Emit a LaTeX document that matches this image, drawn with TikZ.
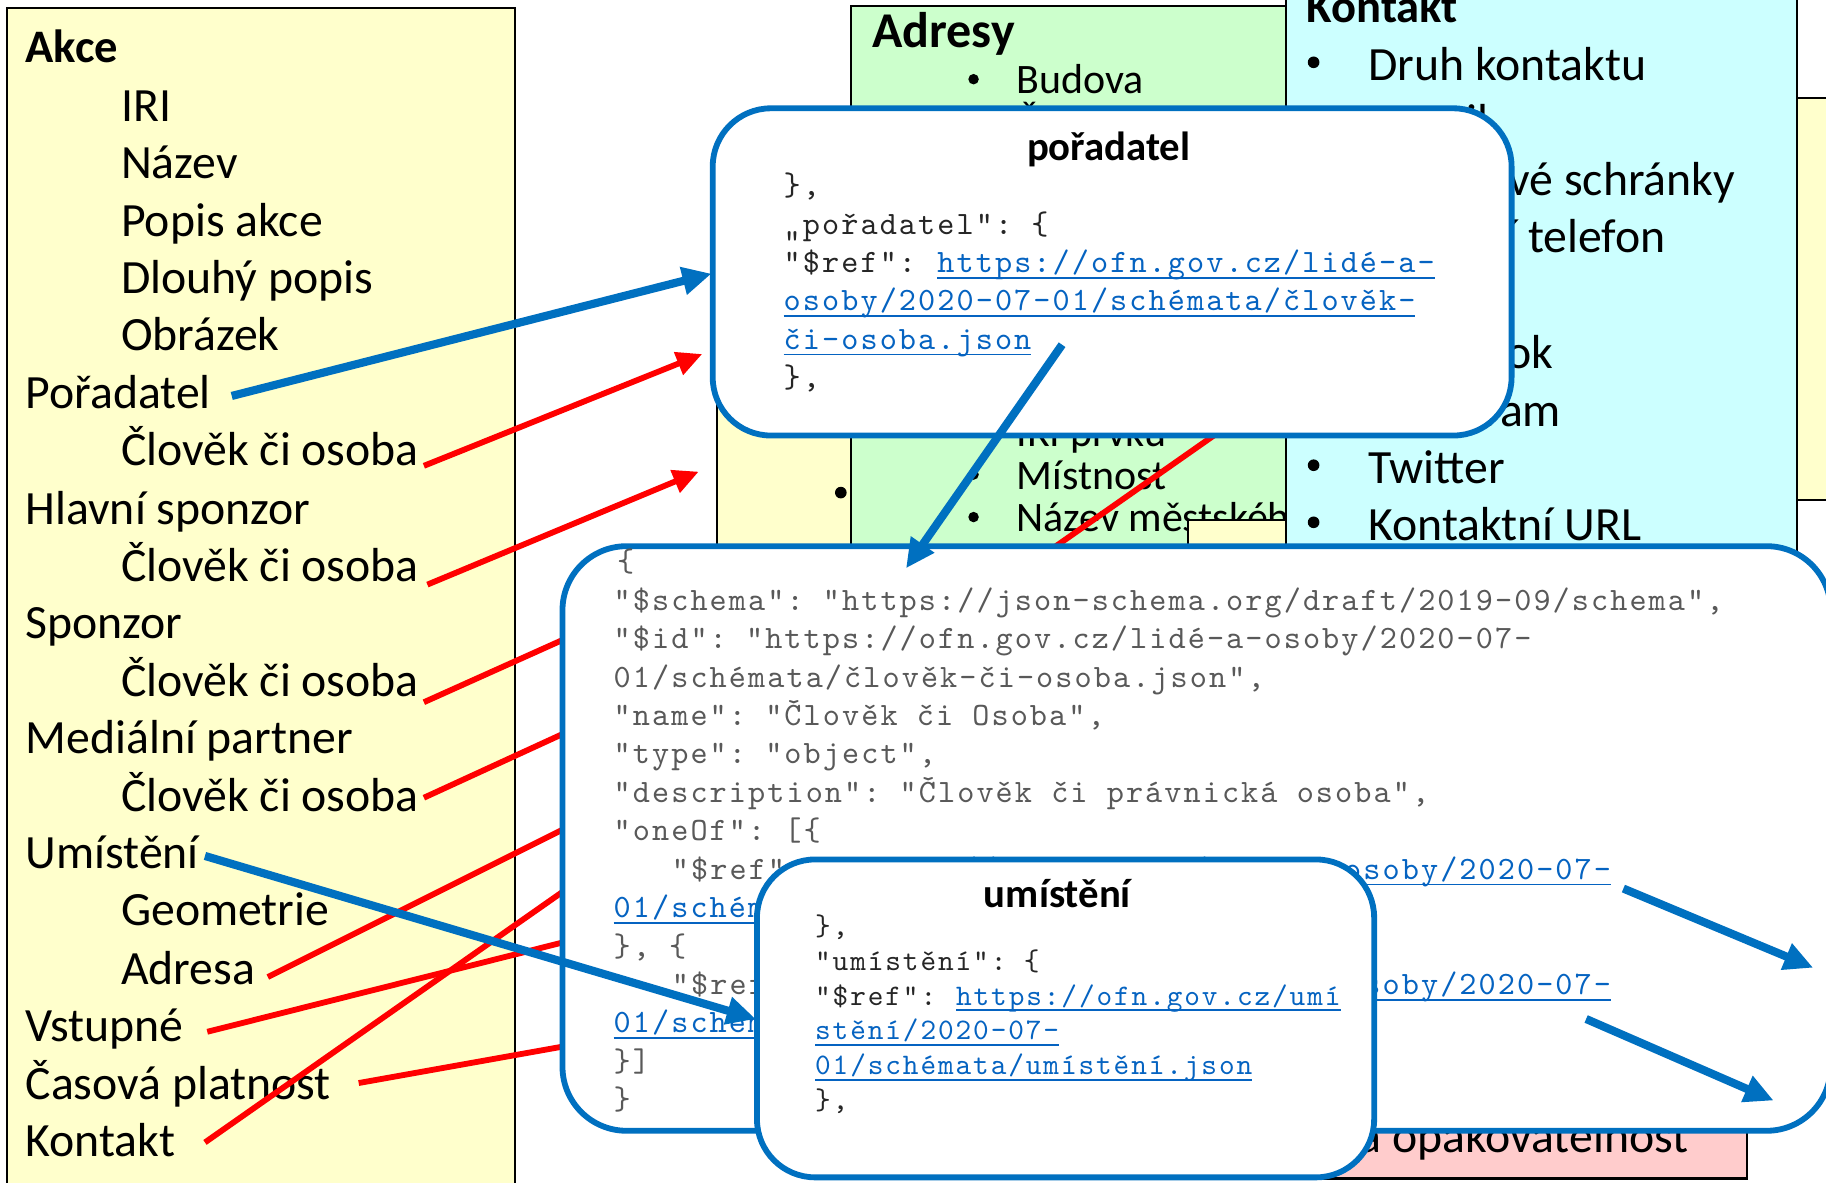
\documentclass[tikz,border=0pt]{standalone}
\usepackage{fontspec}
\setmainfont{Carlito}
\newfontfamily\jsonfont{lmmono10-regular.otf}[LetterSpace=6.4]
\usetikzlibrary{arrows.meta,calc}
\frenchspacing
\definecolor{bluA}{HTML}{0070C0}
\definecolor{linkC}{HTML}{0563C1}
\definecolor{yelC}{HTML}{FFFFCC}
\definecolor{grnC}{HTML}{CCFFCC}
\definecolor{cyaC}{HTML}{CCFFFF}
\definecolor{pnkC}{HTML}{FFCCCC}
\definecolor{codeG}{HTML}{595959}
\definecolor{codeD}{HTML}{262626}
\definecolor{redC}{HTML}{FF0000}
\newcommand\jlink[5]{%
  \node[#2,text=linkC] (#1) at (#3,#4) {#5};
  \draw[linkC,line width=1.3pt] ([yshift=-4.5pt]#1.base west) -- ([yshift=-4.5pt]#1.base east);}
\begin{document}
\begin{tikzpicture}[x=1pt,y=-1pt,
  panel/.style={draw=black,line width=1.8pt},
  tf/.style={font=\fontsize{41}{48}\selectfont,anchor=base west,inner sep=0pt,outer sep=0pt},
  ta/.style={font=\fontsize{36}{43}\selectfont,anchor=base west,inner sep=0pt,outer sep=0pt},
  hd/.style={font=\bfseries\fontsize{40}{48}\selectfont,anchor=base west,inner sep=0pt,outer sep=0pt},
  ttl/.style={font=\bfseries\fontsize{35}{42}\selectfont,anchor=base,inner sep=0pt,outer sep=0pt},
  cg/.style={font=\jsonfont\fontsize{28}{33}\selectfont,text=codeG,anchor=base west,inner sep=0pt,outer sep=0pt},
  cd/.style={font=\jsonfont\fontsize{28}{33}\selectfont,text=codeD,anchor=base west,inner sep=0pt,outer sep=0pt},
  cs/.style={font=\jsonfont\fontsize{25.6}{30}\selectfont,text=codeD,anchor=base west,inner sep=0pt,outer sep=0pt},
  jbox/.style={draw=bluA,line width=5pt,fill=white,rounded corners=55pt},
  redline/.style={draw=redC,line width=5pt},
  redarrow/.style={redline,-{Triangle[length=22pt,width=20pt]}},
  bluearrow/.style={draw=bluA,line width=7pt,-{Triangle[length=25pt,width=23pt]}},
  bul/.style={fill=black}
]
\useasboundingbox (0,0) rectangle (1568,1015);
\clip (0,0) rectangle (1568,1015);
\fill[white] (0,0) rectangle (1568,1015);

% ---------- background panels ----------
\filldraw[panel,fill=yelC] (6,7) rectangle (442,1040);
\filldraw[panel,fill=yelC] (615.5,300) rectangle (731,480);
\fill[bul] (722,423) circle (5);
\filldraw[panel,fill=grnC] (731,5.5) rectangle (1104,480);
\filldraw[panel,fill=yelC] (1543,84) rectangle (1600,429);
\filldraw[panel,fill=pnkC] (880,930) rectangle (1500,1012);

% ---------- left panel: Akce ----------
\node[hd] (akce) at (22,54) {Akce};
\node[tf] (iri) at (104,104) {IRI};
\node[tf] (nazev) at (104,153) {Název};
\node[tf] (popis) at (104,203) {Popis akce};
\node[tf] (dlouhy) at (104,252) {Dlouhý popis};
\node[tf] (obrazek) at (104,301) {Obrázek};
\node[tf] (poradatel) at (22,351) {Pořadatel};
\node[tf] (clovek1) at (104,400) {Člověk či osoba};
\node[tf] (hlavni) at (22,450) {Hlavní sponzor};
\node[tf] (clovek2) at (104,499) {Člověk či osoba};
\node[tf] (sponzor) at (22,548) {Sponzor};
\node[tf] (clovek3) at (104,598) {Člověk či osoba};
\node[tf] (medialni) at (22,647) {Mediální partner};
\node[tf] (clovek4) at (104,697) {Člověk či osoba};
\node[tf] (umisteni) at (22,746) {Umístění};
\node[tf] (geometrie) at (104,795) {Geometrie};
\node[tf] (adresa) at (104,845) {Adresa};
\node[tf] (vstupne) at (22,894) {Vstupné};
\node[tf] (casova) at (22,944) {Časová platnost};
\node[tf] (kontakt) at (22,993) {Kontakt};

% ---------- Adresy panel ----------
\node[hd,font=\bfseries\fontsize{43}{50}\selectfont] (adresy) at (749,41) {Adresy};
\fill[bul] (836,68) circle (4.5);
\node[ta] (budova) at (873,80.5) {Budova};
\fill[bul] (836,104.5) circle (4.5);
\node[ta] (cislo) at (873,117) {Číslo domovní};
\fill[bul] (836,371) circle (4.5);
\node[ta] (iriprvku) at (873,383.5) {IRI prvku};
\fill[bul] (836,407.5) circle (4.5);
\node[ta] (mistnost) at (873,420) {Místnost};
\fill[bul] (836,444) circle (4.5);
\node[ta] (nazevmc) at (873,456.5) {Název městského obvodu};
\filldraw[panel,fill=yelC] (1020,446.5) rectangle (1104,482);
\filldraw[panel,fill=cyaC] (1104,-20) rectangle (1543,480);

% ---------- Kontakt panel ----------
\node[hd] (kontaktH) at (1122,19.5) {Kontakt};
\foreach \yy in {69,118,168,217,316,366,415,464} {\fill[bul] (1128,\yy-15.5) circle (5);}
\node[tf] (druh) at (1175,69) {Druh kontaktu};
\node[tf] (email) at (1175,118) {E-mail};
\node[tf] (datova) at (1175,168) {ID datové schránky};
\node[tf] (telefon) at (1175,217) {Mobilní telefon};
\node[tf] (facebook) at (1175,316) {Facebook};
\node[tf] (instagram) at (1175,366) {Instagram};
\node[tf] (twitter) at (1175,415) {Twitter};
\node[tf] (url) at (1175,464) {Kontaktní URL};

% ---------- pink panel ----------
\node[tf,anchor=base east] (opak) at (1450,990) {Časová platnost a opakovatelnost};

% ---------- red connectors ----------
\coordinate (r1a) at (364,400); \coordinate (r1b) at (603,304);
\coordinate (r2a) at (367,502); \coordinate (r2b) at (600,405);
\coordinate (r3a) at (364,603); \coordinate (r3b) at (560,515);
\coordinate (r4a) at (364,685); \coordinate (r4b) at (560,595);
\coordinate (r5a) at (230,839); \coordinate (r5b) at (560,674);
\coordinate (r6a) at (178,886); \coordinate (r6b) at (560,790);
\coordinate (r7a) at (308,930); \coordinate (r7b) at (560,885);
\coordinate (r8a) at (176,981); \coordinate (r8b) at (1200,263.5);
\draw[redarrow] (r1a) -- (r1b);
\draw[redarrow] (r2a) -- (r2b);
\draw[redline] (r3a) -- (r3b);
\draw[redline] (r4a) -- (r4b);
\draw[redline] (r5a) -- (r5b);
\draw[redline] (r6a) -- (r6b);
\draw[redline] (r7a) -- (r7b);
\draw[redline] (r8a) -- (r8b);

% ---------- big JSON box ----------
\draw[jbox] (483,469) rectangle (1572,971);
\node[cg] (g1) at (530,491) {\{};
\node[cg] (g2) at (527,524) {"\$schema": "https://json-schema.org/draft/2019-09/schema",};
\node[cg] (g3) at (527,557) {"\$id": "https://ofn.gov.cz/lidé-a-osoby/2020-07-};
\node[cg] (g4) at (527,590) {01/schémata/člověk-či-osoba.json",};
\node[cg] (g5) at (527,623) {"name": "Člověk či Osoba",};
\node[cg] (g6) at (527,656) {"type": "object",};
\node[cg] (g7) at (527,689) {"description": "Člověk či právnická osoba",};
\node[cg] (g8) at (527,722) {"oneOf": [\{};
\node[cg] (g9) at (577,755) {"\$ref":};
\jlink{g9l}{cg}{725.5}{755}{https://ofn.gov.cz/lidé-a-osoby/2020-07-}
\jlink{g10}{cg}{527}{788}{01/schémata/člověk.json}
\node[cg] (g11) at (527,821) {\}, \{};
\node[cg] (g12) at (577,854) {"\$ref":};
\jlink{g12l}{cg}{725.5}{854}{https://ofn.gov.cz/lidé-a-osoby/2020-07-}
\jlink{g13}{cg}{527}{887}{01/schémata/právnická-osoba.json}
\node[cg] (g14) at (527,920) {\}]};
\node[cg] (g15) at (527,953) {\}};

% ---------- poradatel box ----------
\draw[jbox,rounded corners=50pt] (612,93) rectangle (1298,374);
\node[ttl] (pt) at (952,138) {pořadatel};
\node[cd] (p1) at (673,168) {\},};
\node[cd] (p2) at (673,201) {„pořadatel": \{};
\node[cd] (p3) at (673,234) {"\$ref":};
\jlink{p3l}{cd}{805}{234}{https://ofn.gov.cz/lidé-a-}
\jlink{p4}{cd}{673}{267}{osoby/2020-07-01/schémata/člověk-}
\jlink{p5}{cd}{673}{300}{či-osoba.json}
\node[cd] (p6) at (673,333) {\},};

% ---------- umisteni box ----------
\draw[jbox,rounded corners=50pt] (650,738) rectangle (1180,1011);
\node[ttl] (ut) at (908,779.5) {umístění};
\node[cs] (u1) at (700,803) {\},};
\node[cs] (u2) at (700,833) {"umístění": \{};
\node[cs] (u3) at (700,863) {"\$ref":};
\jlink{u3l}{cs}{821}{863}{https://ofn.gov.cz/umí}
\jlink{u4}{cs}{700}{893}{stění/2020-07-}
\jlink{u5}{cs}{700}{923}{01/schémata/umístění.json}
\node[cs] (u6) at (700,953) {\},};

% ---------- blue connectors ----------
\coordinate (b1a) at (199,340); \coordinate (b1b) at (611,235);
\coordinate (b2a) at (912,296); \coordinate (b2b) at (778,488);
\coordinate (b3a) at (176,735); \coordinate (b3b) at (649,875);
\coordinate (b4a) at (1394,763); \coordinate (b4b) at (1557,831);
\coordinate (b5a) at (1362,875); \coordinate (b5b) at (1523,945);
\draw[bluearrow] (b1a) -- (b1b);
\draw[bluearrow] (b2a) -- (b2b);
\draw[bluearrow] (b3a) -- (b3b);
\draw[bluearrow] (b4a) -- (b4b);
\draw[bluearrow] (b5a) -- (b5b);
\end{tikzpicture}
\end{document}
